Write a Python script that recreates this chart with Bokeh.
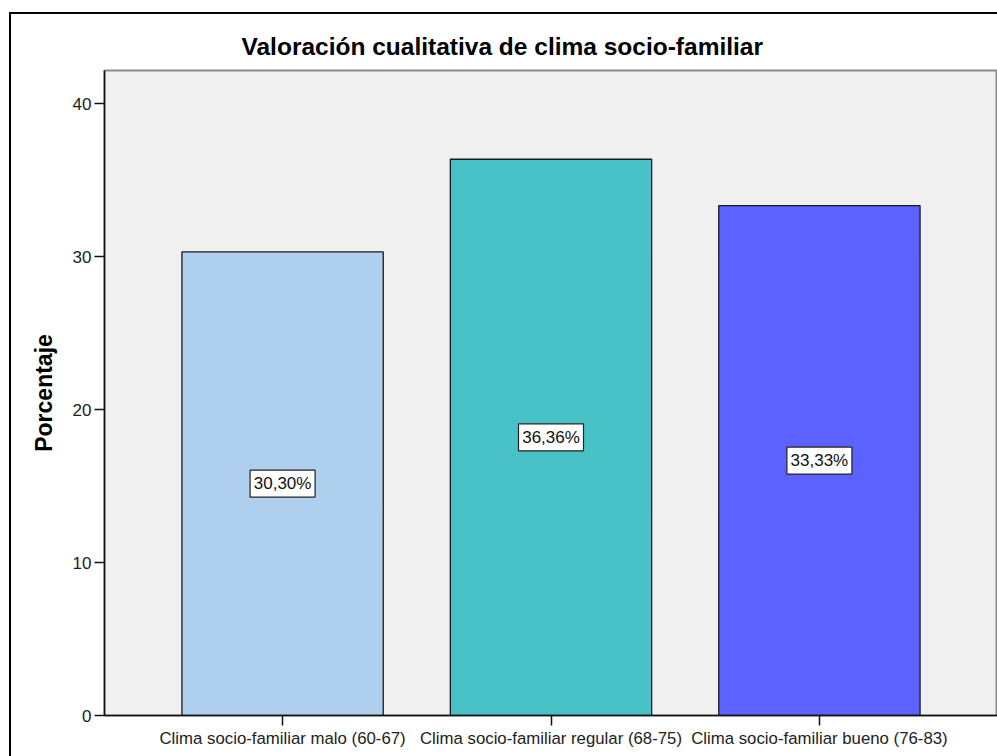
from bokeh.plotting import figure
from bokeh.models import ColumnDataSource, FixedTicker, FactorRange, Range1d, Title
from bokeh.core.properties import value
from bokeh.embed import file_html
from bokeh.resources import INLINE

# ---- data ----
categories = ["Clima socio-familiar malo (60-67)",
              "Clima socio-familiar regular (68-75)",
              "Clima socio-familiar bueno (76-83)"]
percentages = [30.30, 36.36, 33.33]
value_labels = ["30,30%", "36,36%", "33,33%"]
bar_colors = ["#aecfee", "#48c2c6", "#5c62ff"]
y_ticks = [0, 10, 20, 30, 40]

FONT = "Liberation Sans"

src = ColumnDataSource(dict(
    cat=categories,
    pct=percentages,
    mid=[v / 2 for v in percentages],
    lab=value_labels,
    col=bar_colors,
))

p = figure(
    x_range=FactorRange(factors=categories, range_padding=0.109),
    y_range=Range1d(0, 42.16),
    width=988, height=744,
    output_backend="svg", toolbar_location=None,
    min_border_left=95, min_border_right=0, min_border_top=58, min_border_bottom=41,
)
p.margin = (12, 0, 0, 9)
p.styles = {"box-shadow": "inset 2px 2px 0 0 #000000"}
p.border_fill_color = None
p.background_fill_color = "#f0f0f0"
p.outline_line_color = "#8a8a8a"
p.outline_line_width = 2

t = Title(text="Valoración cualitativa de clima socio-familiar", align="left",
          text_font=FONT, text_font_size="24.5px", text_font_style="bold",
          text_color="#000000", offset=137, standoff=21)
p.add_layout(t, "above")

p.vbar(x="cat", top="pct", width=0.75, source=src, fill_color="col",
       line_color="#1a1a1a", line_width=1.3)

# value label boxes
p.rect(x="cat", y="mid", width=65, height=27, width_units="screen", height_units="screen",
       source=src, fill_color="#ffffff", line_color="#222222", line_width=1.2)
p.text(x="cat", y="mid", text="lab", source=src, text_align="center",
       text_baseline="middle", text_font=value(FONT), text_font_size="17px",
       text_color="#111111")

p.xgrid.visible = False
p.ygrid.visible = False

p.yaxis.ticker = FixedTicker(ticks=y_ticks)
p.yaxis.minor_tick_line_color = None
p.yaxis.major_tick_in = 0
p.yaxis.major_tick_out = 10
p.yaxis.major_label_standoff = 3
p.yaxis.axis_label = "Porcentaje"
p.yaxis.axis_label_text_font = FONT
p.yaxis.axis_label_text_font_size = "23px"
p.yaxis.axis_label_text_font_style = "bold"
p.yaxis.axis_label_text_color = "#000000"
p.yaxis.axis_label_standoff = 13

p.xaxis.major_tick_in = 0
p.xaxis.major_tick_out = 10
p.xaxis.major_label_standoff = 3

for ax in (p.xaxis, p.yaxis):
    ax.axis_line_color = "#111111"
    ax.axis_line_width = 1.5
    ax.major_tick_line_color = "#111111"
    ax.major_tick_line_width = 1.5
    ax.major_label_text_font = FONT
    ax.major_label_text_color = "#222222"
p.yaxis.major_label_text_font_size = "17px"
p.xaxis.major_label_text_font_size = "16.8px"

open("out.html", "w").write(file_html(p, INLINE))
